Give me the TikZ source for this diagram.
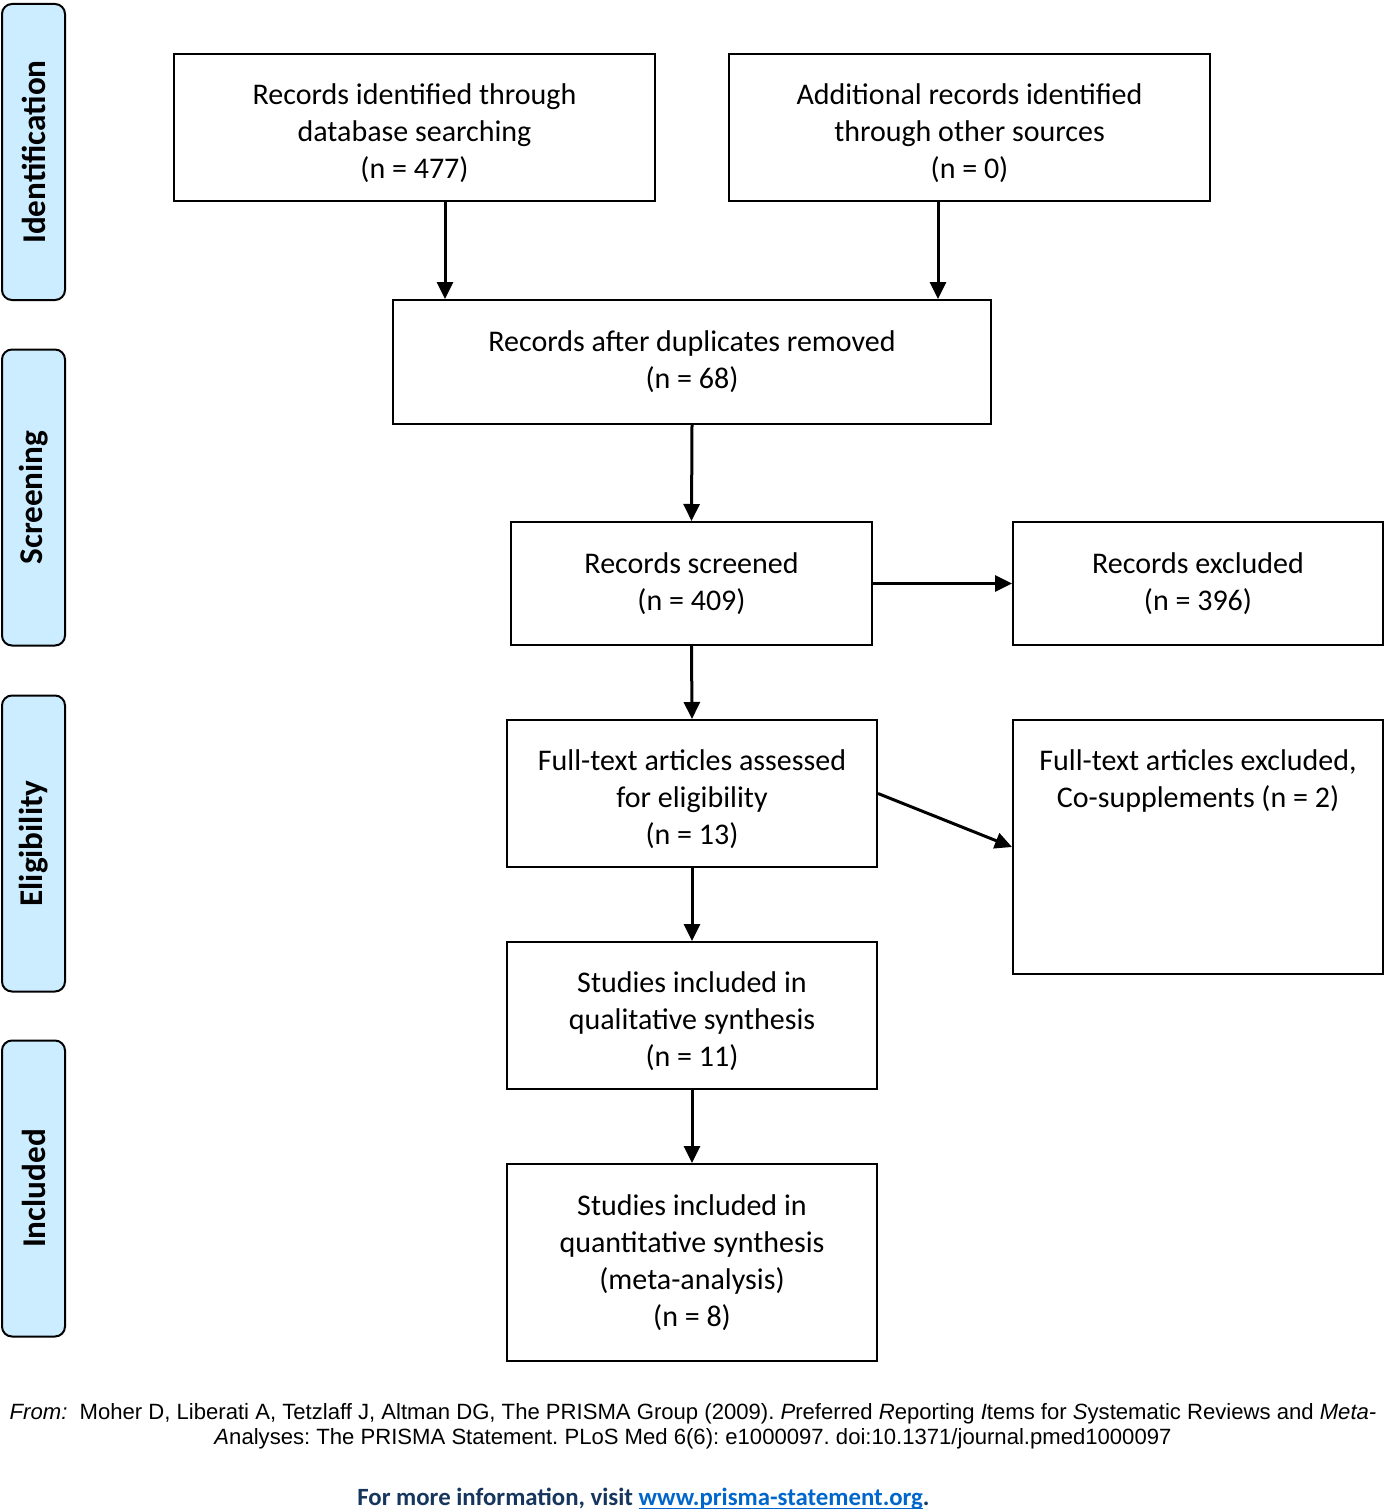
\documentclass[tikz,border=0pt]{standalone}
\usepackage{fontspec}
\setmainfont{Carlito}
\newfontfamily\arialfont{Liberation Sans}
\usetikzlibrary{arrows.meta}
\definecolor{sidefill}{RGB}{204,236,255}
\definecolor{darkblue}{RGB}{23,54,93}
\definecolor{linkblue}{RGB}{0,102,204}
\newcommand\myulink[1]{\setbox0\hbox{#1}\rlap{\rule[-1.9pt]{\wd0}{0.7pt}}\box0}
\tikzset{
  box/.style={draw=black, line width=1pt, fill=white, align=center, inner sep=0pt,
    font=\fontsize{15pt}{18.5pt}\selectfont},
  boxtext/.style={align=center, inner sep=0pt, font=\fontsize{15pt}{18.5pt}\selectfont},
  side/.style={draw=black, line width=1pt, fill=sidefill, rounded corners=5pt,
    minimum width=31.5pt, minimum height=148pt, inner sep=0pt},
  sidetext/.style={rotate=90, font=\fontsize{16.6pt}{19pt}\selectfont\bfseries},
  arr/.style={line width=1.5pt, -{Triangle[length=8.5pt,width=8pt]}}
}
\begin{document}
\frenchspacing
\begin{tikzpicture}[x=0.5pt,y=-0.5pt]
\useasboundingbox (0,0) rectangle (1388,1509);
\fill[white] (0,0) rectangle (1388,1509);
% side bars
\node[side] (s1) at (33.5,152) {};
\node[sidetext] (t1) at (s1.center) {Identification};
\node[side] (s2) at (33.5,497.5) {};
\node[sidetext] (t2) at (s2.center) {Screening};
\node[side] (s3) at (33.5,843.5) {};
\node[sidetext] (t3) at (s3.center) {Eligibility};
\node[side] (s4) at (33.5,1188.5) {};
\node[sidetext] (t4) at (s4.center) {Included};
% boxes
\node[box, minimum width=240.5pt, minimum height=73.5pt] (A) at (414.5,127.5) {};
\node[boxtext] (At) at ([yshift=-3pt]A.center)
  {Records identified through\\database searching\\(n = 477)};
\node[box, minimum width=240.5pt, minimum height=73.5pt] (B) at (969.5,127.5) {};
\node[boxtext] (Bt) at ([yshift=-3pt]B.center)
  {Additional records identified\\through other sources\\(n = 0)};
\node[box, minimum width=299pt, minimum height=62pt] (C) at (692,362)
  {Records after duplicates removed\\(n = 68)};
\node[box, minimum width=180.5pt, minimum height=61.5pt] (D) at (691.5,583.5)
  {Records screened\\(n = 409)};
\node[box, minimum width=185pt, minimum height=61.5pt] (E) at (1198,583.5)
  {Records excluded\\(n = 396)};
\node[box, minimum width=185pt, minimum height=73.5pt] (F) at (692,793.5) {};
\node[boxtext] (Ft) at ([yshift=-3pt]F.center)
  {Full-text articles assessed\\for eligibility\\(n = 13)};
\node[box, minimum width=185pt, minimum height=127pt] (G) at (1198,847) {};
\node[boxtext, anchor=north] (Gt) at (1198,749)
  {Full-text articles excluded,\\Co-supplements (n = 2)};
\node[box, minimum width=185pt, minimum height=73.5pt] (H) at (692,1015.5) {};
\node[boxtext] (Ht) at ([yshift=-3pt]H.center)
  {Studies included in\\qualitative synthesis\\(n = 11)};
\node[box, minimum width=185pt, minimum height=98.5pt] (I) at (692,1262.5)
  {Studies included in\\quantitative synthesis\\(meta-analysis)\\(n = 8)};
% arrows
\coordinate (xa) at (445,0);
\coordinate (xb) at (938,0);
\draw[arr] (A.south -| xa) -- (C.north -| xa);
\draw[arr] (B.south -| xb) -- (C.north -| xb);
\draw[arr] (C.south) -- (D.north);
\draw[arr] (D.east) -- (E.west);
\draw[arr] (D.south) -- (F.north);
\draw[arr] (F.east) -- (G.west);
\draw[arr] (F.south) -- (H.north);
\draw[arr] (H.south) -- (I.north);
% footer
\node[align=center, inner sep=0pt, font=\arialfont\fontsize{11.05pt}{12.5pt}\selectfont] (ref) at (693,1426)
  {\textit{From:}\ \ Moher D, Liberati A, Tetzlaff J, Altman DG, The PRISMA Group (2009). \textit{P}referred \textit{R}eporting \textit{I}tems for \textit{S}ystematic Reviews and \textit{Meta-}\\
   \textit{A}nalyses: The PRISMA Statement. PLoS Med 6(6): e1000097. doi:10.1371/journal.pmed1000097};
\node[inner sep=0pt, font=\fontsize{12.4pt}{14pt}\selectfont\bfseries, text=darkblue] (info) at (643.5,1499)
  {For more information, visit \textcolor{linkblue}{\myulink{www.prisma-statement.org}}.};
\end{tikzpicture}
\end{document}
